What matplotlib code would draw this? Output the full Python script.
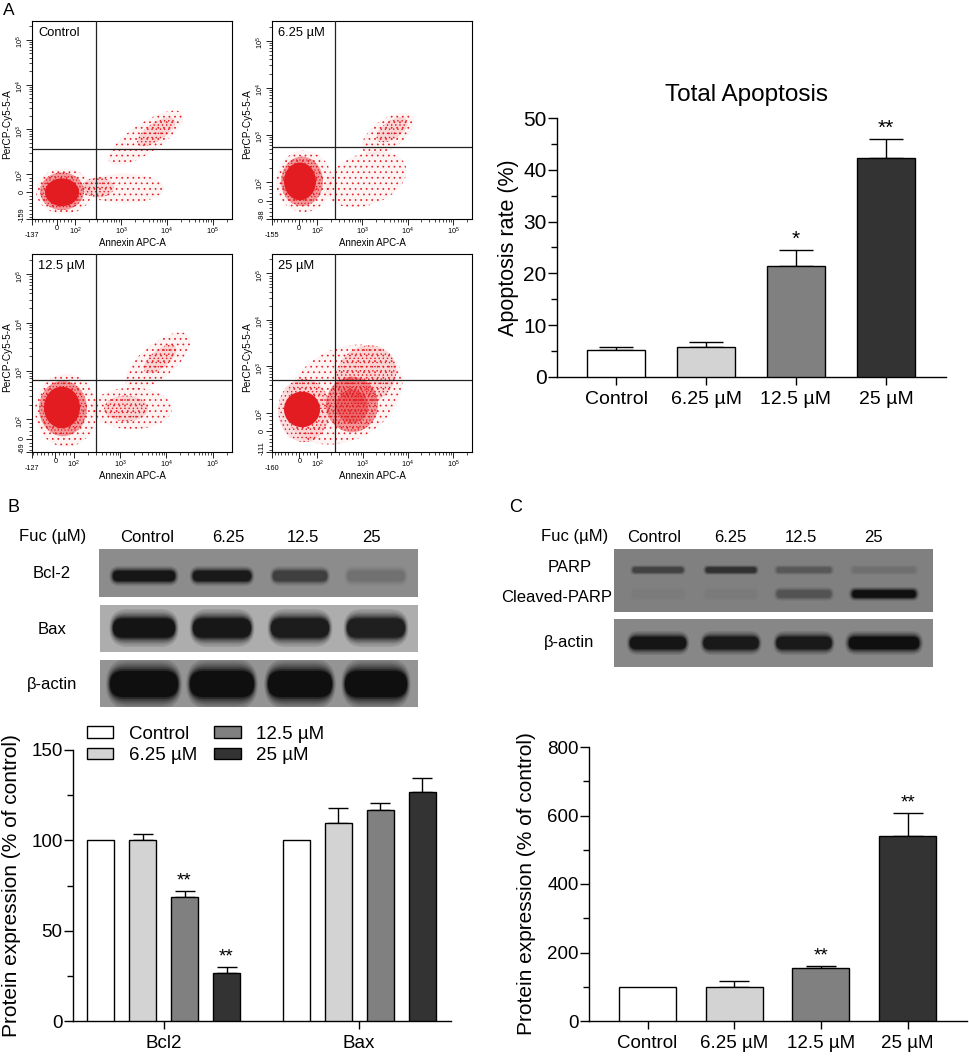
import numpy as np
import matplotlib
matplotlib.use('Agg')
import matplotlib.pyplot as plt
import matplotlib.transforms as mtransforms
from matplotlib.patches import Ellipse, Rectangle, FancyBboxPatch
from matplotlib.ticker import MultipleLocator, NullFormatter

plt.rcParams['font.family'] = ['Liberation Sans', 'DejaVu Sans']
plt.rcParams['mathtext.fontset'] = 'custom'
plt.rcParams['mathtext.rm'] = 'Liberation Sans'
plt.rcParams['mathtext.it'] = 'Liberation Sans:italic'
plt.rcParams['mathtext.bf'] = 'Liberation Sans:bold'
plt.rcParams['hatch.linewidth'] = 0.5

W, H = 969, 1056

# ---------------- data ----------------
doses = ['Control', '6.25 µM', '12.5 µM', '25 µM']
lane_labels = ['Control', '6.25', '12.5', '25']

# A: flow cytometry (Annexin APC-A vs PerCP-Cy5-5-A)
flow_xmin = [-137, -155, -127, -160]
flow_ymin = [-159, -98, -69, -111]
gate_x = [286, 250, 301, 245]
gate_y = [366, 550, 652, 512]
# event clouds, in axes fraction:
# (x centre, y centre, width, height, angle, density 0..3)
cells_ctrl = [
    (0.16, 0.14, 0.28, 0.23, 0, 0),
    (0.46, 0.155, 0.40, 0.15, 0, 0),
    (0.57, 0.41, 0.44, 0.15, 34, 0),
    (0.62, 0.44, 0.22, 0.09, 34, 1),
    (0.33, 0.16, 0.16, 0.10, 0, 1),
    (0.15, 0.14, 0.22, 0.19, 0, 2),
    (0.15, 0.135, 0.17, 0.14, 0, 3),
]
cells_625 = [
    (0.16, 0.19, 0.28, 0.31, 0, 0),
    (0.47, 0.20, 0.42, 0.26, 20, 0),
    (0.58, 0.43, 0.30, 0.15, 35, 0),
    (0.60, 0.45, 0.18, 0.09, 35, 1),
    (0.15, 0.19, 0.21, 0.25, 0, 2),
    (0.14, 0.19, 0.16, 0.19, 0, 3),
]
cells_125 = [
    (0.17, 0.21, 0.31, 0.37, 0, 0),
    (0.50, 0.22, 0.40, 0.21, 0, 0),
    (0.63, 0.46, 0.40, 0.17, 40, 0),
    (0.47, 0.22, 0.22, 0.13, 0, 1),
    (0.64, 0.47, 0.20, 0.09, 40, 1),
    (0.155, 0.22, 0.24, 0.28, 0, 2),
    (0.15, 0.225, 0.18, 0.21, 0, 3),
]
cells_25 = [
    (0.36, 0.29, 0.62, 0.46, 30, 0),
    (0.47, 0.39, 0.32, 0.28, 40, 1),
    (0.16, 0.21, 0.26, 0.32, 0, 1),
    (0.40, 0.24, 0.26, 0.28, 0, 2),
    (0.40, 0.23, 0.16, 0.17, 0, 2),
    (0.15, 0.215, 0.18, 0.18, 0, 3),
]
flow_cells = [cells_ctrl, cells_625, cells_125, cells_25]

# total apoptosis (%)
apop_mean = [5.2, 5.7, 21.4, 42.3]
apop_err = [0.6, 1.0, 3.1, 3.7]
apop_sig = ['', '', '*', '**']

# B: Bcl2 / Bax (% of control)
proteins = ['Bcl2', 'Bax']
bcl2_mean = [100, 100, 68.8, 26.4]
bcl2_err = [0, 3.3, 3.2, 3.3]
bcl2_sig = ['', '', '**', '**']
bax_mean = [100, 109.4, 116.8, 126.8]
bax_err = [0, 8.5, 4.0, 7.9]

# C: cleaved PARP (% of control)
parp_mean = [100, 100, 155, 540]
parp_err = [0, 16, 7, 68]
parp_sig = ['', '', '**', '**']

# band darkness per lane (0 = no band, 1 = saturated)
bcl2_band = [0.95, 0.92, 0.62, 0.22]
bax_band = [0.97, 0.95, 0.92, 0.90]
actin_b_band = [1.0, 1.0, 1.0, 1.0]
parp_band = [0.55, 0.70, 0.35, 0.15]
cparp_band = [0.04, 0.05, 0.40, 1.0]
actin_c_band = [0.95, 0.92, 0.92, 1.0]

bar_colors = ['white', '#d3d3d3', '#808080', '#333333']

# ---------------- figure ----------------
fig = plt.figure(figsize=(W / 100, H / 100), dpi=100)


def px_axes(l, t, r, b):
    return fig.add_axes([l / W, 1 - b / H, (r - l) / W, (b - t) / H])


# overlay in pixel units for blots and loose text
ov = fig.add_axes([0, 0, 1, 1])
ov.set_xlim(0, W)
ov.set_ylim(H, 0)
ov.axis('off')

red = (0.89, 0.11, 0.13)
dens_style = {0: (0.05, '...'), 1: (0.14, '....'), 2: (0.42, '.....'), 3: (1.0, None)}


def flow_panel(ax, name, xmin, ymin, gx, gy, cells):
    ax.set_xscale('symlog', base=10, linthresh=100, linscale=0.36)
    ax.set_yscale('symlog', base=10, linthresh=100, linscale=0.36)
    ax.set_xlim(xmin, 262144)
    ax.set_ylim(ymin, 262144)
    for cx, cy, w, h, ang, lev in cells:
        a, hatch = dens_style[lev]
        ax.add_patch(Ellipse((cx, cy), w, h, angle=ang, transform=ax.transAxes,
                             facecolor=(*red, a), edgecolor=red, linewidth=0,
                             hatch=hatch, zorder=1))
    ax.axvline(gx, color='#222222', lw=0.9, zorder=3)
    ax.axhline(gy, color='#222222', lw=0.9, zorder=3)

    major = [0, 1e2, 1e3, 1e4, 1e5]
    maj_lab = ['0', '$10^2$', '$10^3$', '$10^4$', '$10^5$']
    logminor = [k * 10.0 ** e for e in (2, 3, 4) for k in range(2, 10)] + [2e5]
    for axis, lo in ((ax.xaxis, xmin), (ax.yaxis, ymin)):
        axis.set_ticks([lo] + major)
        axis.set_ticklabels([''] + maj_lab)
        lin = [v for v in range(-160, 100, 20) if lo < v and v != 0]
        axis.set_ticks(lin + logminor, minor=True)
        axis.set_minor_formatter(NullFormatter())
    ax.tick_params(which='major', length=4, width=0.6, labelsize=5.2, pad=0.6)
    ax.tick_params(which='minor', length=2.2, width=0.5)
    ax.tick_params(axis='y', labelrotation=90)
    for s in ax.spines.values():
        s.set_linewidth(0.8)

    tx = mtransforms.blended_transform_factory(ax.transData, ax.transAxes)
    ax.text(xmin, -0.085, str(xmin), transform=tx, ha='center', va='center', fontsize=5.2)
    ax.text(-0.05, 0.02, str(ymin), transform=ax.transAxes, ha='center', va='center',
            rotation=90, fontsize=5.2)
    ax.text(0.5, -0.122, 'Annexin APC-A', transform=ax.transAxes, ha='center',
            va='center', fontsize=7)
    ax.text(-0.122, 0.48, 'PerCP-Cy5-5-A', transform=ax.transAxes, ha='center',
            va='center', rotation=90, fontsize=7.2)
    ax.text(0.03, 0.94, name, transform=ax.transAxes, ha='left', va='center',
            fontsize=9.3)


flow_boxes = [(32, 21, 232, 219), (272, 21, 472, 219),
              (32, 254, 232, 452), (272, 254, 472, 452)]
for i, box in enumerate(flow_boxes):
    fax = px_axes(*box)
    flow_panel(fax, doses[i], flow_xmin[i], flow_ymin[i], gate_x[i], gate_y[i],
               flow_cells[i])


# ---------------- bar charts ----------------
def style_bar_axes(ax, ysize, xsize):
    for s in ('top', 'right'):
        ax.spines[s].set_visible(False)
    for s in ('left', 'bottom'):
        ax.spines[s].set_linewidth(1.0)
    ax.tick_params(axis='y', which='major', length=6.5, width=1.0,
                   labelsize=ysize, pad=1)
    ax.tick_params(axis='y', which='minor', length=4, width=1.0)
    ax.tick_params(axis='x', length=5.8, width=1.0, labelsize=xsize, pad=4)


def add_bars(ax, x, mean, err, colors, width, cap, sig, sig_size, sig_off, label=None):
    x = np.asarray(x, float)
    mean = np.asarray(mean, float)
    err = np.asarray(err, float)
    ax.bar(x, mean, width, color=colors, edgecolor='black', linewidth=1.0,
           zorder=3, label=label)
    has = err > 0
    if has.any():
        ax.errorbar(x[has], mean[has], yerr=[np.zeros(has.sum()), err[has]],
                    fmt='none', ecolor='black', elinewidth=1.0, capsize=cap,
                    capthick=1.0, zorder=2)
    for xi, m, e, s in zip(x, mean, err, sig):
        if s:
            ax.annotate(s, (xi, m + e), xytext=(0, sig_off), textcoords='offset points',
                        ha='center', va='bottom', fontsize=sig_size)


# total apoptosis
ax1 = px_axes(557, 118, 946, 377)
add_bars(ax1, range(4), apop_mean, apop_err, bar_colors, 0.655, 12, apop_sig, 15, 1)
ax1.set_xlim(-0.656, 3.667)
ax1.set_ylim(0, 50)
ax1.yaxis.set_major_locator(MultipleLocator(10))
ax1.yaxis.set_minor_locator(MultipleLocator(5))
ax1.set_xticks(range(4))
ax1.set_xticklabels(doses)
style_bar_axes(ax1, 15, 14)
ax1.set_ylabel('Apoptosis rate (%)', fontsize=15.5)
ax1.yaxis.set_label_coords(-0.098, 0.5)
ov.text(747, 95, 'Total Apoptosis', ha='center', va='center', fontsize=17.5)

# Bcl2 / Bax
ax2 = px_axes(73, 750, 451, 1021)
group_x = np.array([0.0, 4.655])
for i in range(4):
    add_bars(ax2, group_x + (i - 1.5), [bcl2_mean[i], bax_mean[i]],
             [bcl2_err[i], bax_err[i]], bar_colors[i], 0.643, 7,
             [bcl2_sig[i], ''], 13.5, 1, label=doses[i])
ax2.set_xlim(-2.155, 6.845)
ax2.set_ylim(0, 150)
ax2.yaxis.set_major_locator(MultipleLocator(50))
ax2.yaxis.set_minor_locator(MultipleLocator(25))
ax2.set_xticks(group_x)
ax2.set_xticklabels(proteins)
style_bar_axes(ax2, 13.5, 13.5)
ax2.set_ylabel('Protein expression (% of control)', fontsize=15)
ax2.yaxis.set_label_coords(-0.1376, 0.5)
ax2.legend(loc='upper left', bbox_to_anchor=(0.037, 1.09), ncol=2, frameon=False,
           fontsize=13.5, handlelength=1.4, handleheight=0.55, handletextpad=0.85,
           columnspacing=0.9, labelspacing=0.25, borderpad=0, borderaxespad=0)

# cleaved PARP
ax3 = px_axes(589, 747, 967, 1021)
add_bars(ax3, range(4), parp_mean, parp_err, bar_colors, 0.657, 11, parp_sig, 13.5, 1)
ax3.set_xlim(-0.675, 3.685)
ax3.set_ylim(0, 800)
ax3.yaxis.set_major_locator(MultipleLocator(200))
ax3.yaxis.set_minor_locator(MultipleLocator(100))
ax3.set_xticks(range(4))
ax3.set_xticklabels(doses)
style_bar_axes(ax3, 13.5, 13.5)
ax3.set_ylabel('Protein expression (% of control)', fontsize=15)
ax3.yaxis.set_label_coords(-0.140, 0.5)


# ---------------- western blots ----------------
def strip(x0, x1, y0, y1, bg):
    r = Rectangle((x0, y0), x1 - x0, y1 - y0, facecolor=str(bg), edgecolor='none')
    ov.add_patch(r)
    return r


def band_row(clip, centers, widths, cy, h, levels, bg):
    n = 8
    for cx, w, k in zip(centers, widths, levels):
        for j in range(n):
            t = j / (n - 1)
            fw = 1.12 - 0.12 * t
            fh = 2.0 - 1.0 * t
            f = 0.12 + 0.88 * t ** 1.5
            ww, hh = w * fw, h * fh
            g = bg + (0.06 - bg) * k * f
            p = FancyBboxPatch((cx - ww / 2, cy - hh / 2), ww, hh,
                               boxstyle=f'round,pad=0,rounding_size={hh / 2:.2f}',
                               facecolor=str(g), edgecolor='none')
            ov.add_patch(p)
            p.set_clip_path(clip)


lane_b = [144, 222, 300, 376]
lane_c = [658, 731, 804, 884]

s = strip(99, 418, 549, 597, 0.55)
band_row(s, lane_b, [62, 58, 54, 57], 576, 10, bcl2_band, 0.55)
s = strip(100, 418, 605, 652, 0.68)
band_row(s, lane_b, [62, 58, 58, 58], 628, 19, bax_band, 0.68)
s = strip(100, 418, 660, 707, 0.58)
band_row(s, lane_b, [68, 64, 64, 62], 684, 26, actin_b_band, 0.58)

s = strip(614, 933, 549, 612, 0.50)
band_row(s, lane_c, [50, 50, 54, 62], 570, 5, parp_band, 0.50)
band_row(s, lane_c, [50, 50, 54, 63], 594, 7, cparp_band, 0.50)
s = strip(614, 933, 619, 667, 0.53)
band_row(s, lane_c, [56, 55, 55, 70], 643, 12, actin_c_band, 0.53)

for x, lab in zip([147, 228, 303, 371], lane_labels):
    ov.text(x, 537, lab, ha='center', va='center', fontsize=12)
for x, lab in zip([654, 730, 801, 873], lane_labels):
    ov.text(x, 537, lab, ha='center', va='center', fontsize=12)
ov.text(19, 537, 'Fuc (µM)', ha='left', va='center', fontsize=12)
ov.text(541, 537, 'Fuc (µM)', ha='left', va='center', fontsize=12)
for y, lab in zip([574, 630, 685], ['Bcl-2', 'Bax', 'β-actin']):
    ov.text(52, y, lab, ha='center', va='center', fontsize=12)
ov.text(570, 568, 'PARP', ha='center', va='center', fontsize=12)
ov.text(557, 598, 'Cleaved-PARP', ha='center', va='center', fontsize=12)
ov.text(569, 642, 'β-actin', ha='center', va='center', fontsize=12)

ov.text(8.5, 10.5, 'A', ha='center', va='center', fontsize=12.5)
ov.text(13.5, 507, 'B', ha='center', va='center', fontsize=13)
ov.text(516, 507, 'C', ha='center', va='center', fontsize=13)

fig.savefig('out.png', dpi=100)
